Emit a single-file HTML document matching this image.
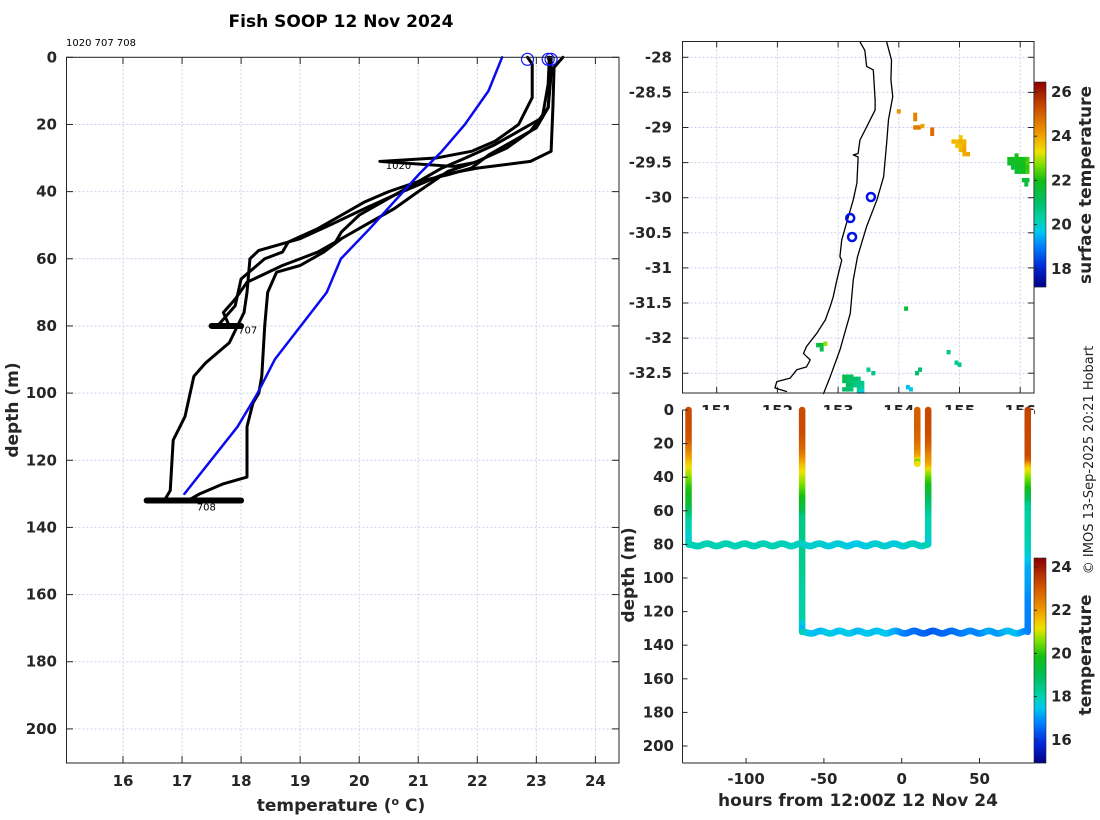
<!DOCTYPE html>
<html><head><meta charset="utf-8">
<style>
html,body{margin:0;padding:0;background:#fff;}
svg{display:block;font-family:"DejaVu Sans","Liberation Sans",sans-serif;}
.tk{font-size:15px;font-weight:bold;fill:#262626;}
.lb{font-size:17px;font-weight:bold;fill:#262626;}
</style></head>
<body>
<svg id="fig" width="1100" height="820" viewBox="0 0 1100 820" xmlns="http://www.w3.org/2000/svg">
<rect width="1100" height="820" fill="#fff"/>
<text x="341" y="27" text-anchor="middle" font-size="17" font-weight="bold" fill="#000">Fish SOOP 12 Nov 2024</text>
<text x="66" y="46" font-size="10" fill="#000">1020 707 708</text>
<g id="left"></g>
<g id="map"></g>
<g id="bot"></g>
<text transform="translate(1093,460) rotate(-90)" text-anchor="middle" font-size="13" fill="#222">© IMOS 13-Sep-2025 20:21 Hobart</text>
</svg>
<script>
// ---------- data ----------
const climTemp=[22.42,22.19,21.79,21.40,21.03,20.54,20.18,19.69,19.45,18.57,18.28,17.94,17.04];
const climDepth=[0,10,20,28,34.5,44,51,60,70,90,100,110,130];
const p1Temp=[23.45,23.3,23.28,23.25,22.9,22.0,21.4,20.6,20.1,19.5,19.0,18.3,18.15,18.1,18.05,17.8,17.4,17.2,17.05,16.85,16.8,16.7];
const p1Depth=[0,3,15,28,31,33,35,41,45,50,54,57.5,60,70,76,85,91,95,107,114,129,132];
const p2Temp=[23.2,23.25,23.2,22.9,22.5,22.0,21.5,21.0,20.6,20.2,19.7,19.4,19.0,18.6,18.45,18.4,18.35,18.3,18.2,18.1,18.1,17.7,17.3,17.1];
const p2Depth=[0,3,15,22,27,31,34,40,45,49,54,58,62,64,70,80,95,100,103,110,125,127,130,132];
const p3Temp=[22.85,22.93,22.93,22.7,22.3,21.9,21.3,20.35,21.6,21.9];
const p3Depth=[0,2,12,20,25,28,30,31,32.5,31.5];
const p4Temp=[23.25,23.25,23.2,23.0,22.6,22.2,21.9,21.5,21.0,20.5,20.1,19.7,19.3,18.8,18.7,18.4,18.2,18.0,17.95,17.9,17.7,17.6];
const p4Depth=[0,5,15,21,25,29,33,35,37,40,43,47,51,55,58,60,63,66,70,74,78,80];
const p5Temp=[23.22,23.2,23.1,22.7,22.3,21.8,21.4,20.9,20.5,20.0,19.7,19.6,19.3,18.7,18.1,17.9,17.7,17.8];
const p5Depth=[0,8,18,22,26,30,33,38,42,47,52,55,58,62,67,72,76,80];
const castHours=[-137,-64,10,17,81];
const driftAHours=[-137,-131,-125,-119,-113,-107,-101,-95,-89,-83,-77,-71,-65,-59,-53,-47,-41,-35,-29,-23,-17,-11,-5,1,7,13,17];
const driftADepth=[80,81,79.5,81,79.5,81,79.5,81,79.5,81,79.5,81,79.5,81,79.5,81,79.5,81,79.5,81,79.5,81,79.5,81,79.5,81,80];
const driftATemp=[18.0,17.9,18.0,17.95,18.0,17.9,18.0,17.9,17.95,17.95,18.0,17.9,17.9,17.7,17.8,17.6,17.7,17.6,17.5,17.6,17.7,17.8,17.6,17.7,17.9,17.8,18.0];
const driftBHours=[-64,-58,-52,-46,-40,-34,-28,-22,-16,-10,-4,2,8,14,20,26,32,38,44,50,56,62,68,74,80,81];
const driftBDepth=[132,133,131.5,133,131.5,133,131.5,133,131.5,133,131.5,133,131.5,133,131.5,133,131.5,133,131.5,133,131.5,133,131.5,133,131.5,132];
const driftBTemp=[18.0,17.5,17.3,17.6,17.4,17.6,17.3,17.5,17.4,17.5,17.2,16.8,16.6,16.5,16.4,16.5,16.6,16.7,16.9,16.8,17.2,17.0,17.3,17.4,16.9,16.8];
const startTemp=[22.85,23.2,23.25];
const tempTicks=[16,17,18,19,20,21,22,23,24];
const depthTicks=[0,20,40,60,80,100,120,140,160,180,200];
const coastLon=[153.36,153.44,153.47,153.58,153.61,153.61,153.50,153.36,153.33,153.25,153.33,153.31,153.25,153.20,153.14,153.06,153.03,153.06,152.98,152.92,152.87,152.79,152.65,152.48,152.43,152.54,152.48,152.32,152.21,151.99,151.96,152.15];
const coastLat=[-27.78,-27.90,-28.13,-28.18,-28.61,-28.75,-28.94,-29.18,-29.37,-29.39,-29.42,-29.79,-30.03,-30.18,-30.36,-30.60,-30.84,-30.89,-31.17,-31.41,-31.55,-31.74,-31.93,-32.12,-32.22,-32.31,-32.41,-32.45,-32.57,-32.62,-32.71,-32.76];
const shelfLon=[153.80,153.88,153.87,153.90,153.83,153.80,153.75,153.64,153.47,153.32,153.25,153.20,153.03,152.87,152.76];
const shelfLat=[-27.78,-28.04,-28.32,-28.56,-28.89,-29.22,-29.70,-30.03,-30.41,-30.84,-31.17,-31.65,-32.17,-32.55,-32.79];
const stnLon=[153.54,153.20,153.23];
const stnLat=[-29.99,-30.29,-30.56];
const sstLon=[154.27,154.27,154.33,154.27,154.39,154.55,154.55,154.0,
154.9,154.96,155.02,155.08,154.96,155.02,155.08,155.02,155.08,155.08,155.14,155.02,
155.82,155.88,155.94,156.0,156.06,156.12,155.82,155.88,155.94,156.0,156.06,156.12,155.88,155.94,156.0,156.06,156.12,155.94,156.0,156.06,156.12,156.12,156.06,156.1,155.94,
152.67,152.73,152.79,152.73,
153.1,153.16,153.22,153.28,153.34,153.1,153.16,153.22,153.28,153.34,153.4,153.16,153.22,153.28,153.34,153.4,153.1,153.16,153.22,153.34,153.4,
154.3,154.35,154.95,155.0,154.2,154.15,154.12,154.82,153.5,153.58];
const sstLat=[-28.82,-28.88,-29.0,-29.0,-28.98,-29.03,-29.09,-28.77,
-29.2,-29.2,-29.2,-29.2,-29.26,-29.26,-29.26,-29.32,-29.32,-29.38,-29.38,-29.14,
-29.45,-29.45,-29.45,-29.45,-29.45,-29.45,-29.51,-29.51,-29.51,-29.51,-29.51,-29.51,-29.57,-29.57,-29.57,-29.57,-29.57,-29.63,-29.63,-29.63,-29.63,-29.75,-29.75,-29.81,-29.4,
-32.1,-32.1,-32.08,-32.16,
-32.55,-32.55,-32.55,-32.58,-32.58,-32.61,-32.61,-32.61,-32.64,-32.64,-32.64,-32.67,-32.67,-32.67,-32.7,-32.7,-32.73,-32.73,-32.73,-32.76,-32.76,
-32.5,-32.45,-32.35,-32.38,-32.73,-32.7,-31.58,-32.2,-32.45,-32.5];
const sstVal=[24.5,24.5,24.6,24.6,24.0,24.8,24.8,24.2,
23.8,23.7,23.9,23.8,23.6,23.7,23.9,23.8,24.0,23.9,24.0,23.6,
21.9,21.8,21.8,22.0,21.9,22.3,21.7,21.8,21.9,21.8,22.0,22.4,21.6,21.7,21.8,21.9,22.2,21.7,21.8,21.9,22.3,21.6,21.7,21.5,22.0,
21.5,21.5,22.8,21.3,
21.4,21.3,21.1,21.2,20.8,21.3,21.0,20.9,20.8,20.6,20.7,21.2,21.0,20.7,20.6,20.5,21.1,21.0,20.8,20.4,19.8,
21.0,21.0,20.6,20.6,19.8,19.6,21.6,20.7,20.5,20.7];
const mapLatTicks=[-28,-28.5,-29,-29.5,-30,-30.5,-31,-31.5,-32,-32.5];
const mapLonTicks=[151,152,153,154,155,156];
const sstCbTicks=[18,20,22,24,26];
const hourTicks=[-100,-50,0,50];
const tCbTicks=[16,18,20,22,24];

// ---------- helpers ----------
const NS="http://www.w3.org/2000/svg";
function el(parent,tag,attrs,text){const e=document.createElementNS(NS,tag);for(const k in attrs)e.setAttribute(k,attrs[k]);if(text!==undefined)e.textContent=text;parent.appendChild(e);return e;}
const stops=[[0,[0,0,128]],[0.1,[0,40,220]],[0.2,[0,130,255]],[0.27,[0,200,240]],[0.33,[0,210,170]],[0.42,[0,190,100]],[0.52,[20,190,20]],[0.6,[130,225,0]],[0.66,[240,225,0]],[0.74,[240,160,0]],[0.86,[210,85,0]],[1,[140,0,0]]];
function cmap(f){f=Math.max(0,Math.min(1,f));for(let i=1;i<stops.length;i++){if(f<=stops[i][0]){const a=stops[i-1],b=stops[i];const t=(f-a[0])/(b[0]-a[0]);const c=a[1].map((v,j)=>Math.round(v+(b[1][j]-v)*t));return `rgb(${c[0]},${c[1]},${c[2]})`;}}return 'rgb(140,0,0)';}
function interp(ds,ts,d){for(let i=1;i<ds.length;i++){if(d<=ds[i]){const t=(d-ds[i-1])/((ds[i]-ds[i-1])||1);return ts[i-1]+(ts[i]-ts[i-1])*t;}}return ts[ts.length-1];}
const GRID="#c9d2ec";

// ---------- left panel ----------
const L=document.getElementById('left');
const lx=t=>123+(t-16)*59.05, ly=d=>57.3+d*3.358;
el(L,'rect',{x:66.5,y:57.3,width:552.5,height:705.7,fill:'#fff'});
tempTicks.forEach(t=>{
 const g=el(L,'line',{x1:lx(t),x2:lx(t),y1:57.3,y2:763,stroke:GRID,'stroke-width':1,'stroke-dasharray':'2,2'});
 
 el(L,'line',{x1:lx(t),x2:lx(t),y1:763,y2:756,stroke:'#262626'});
 el(L,'line',{x1:lx(t),x2:lx(t),y1:57.3,y2:64,stroke:'#262626'});
 const tx=el(L,'text',{x:lx(t),y:786,'text-anchor':'middle',class:'tk'},String(t));
 
});
depthTicks.forEach(d=>{
 const g=el(L,'line',{x1:66.5,x2:619,y1:ly(d),y2:ly(d),stroke:GRID,'stroke-width':1,'stroke-dasharray':'2,2'});
 
 el(L,'line',{x1:66.5,x2:73,y1:ly(d),y2:ly(d),stroke:'#262626'});
 el(L,'line',{x1:612,x2:619,y1:ly(d),y2:ly(d),stroke:'#262626'});
 const tx=el(L,'text',{x:57,y:ly(d)+5,'text-anchor':'end',class:'tk'},String(d));
 
});
function pline(parent,ts,ds,fx,fy,col,w,name){const p=el(parent,'polyline',{points:ts.map((t,i)=>fx(t)+','+fy(ds[i])).join(' '),fill:'none',stroke:col,'stroke-width':w,'stroke-linejoin':'round','stroke-linecap':'round'});return p;}
const profiles=[[p1Temp,p1Depth],[p2Temp,p2Depth],[p3Temp,p3Depth],[p4Temp,p4Depth],[p5Temp,p5Depth]];
profiles.forEach((p,i)=>pline(L,p[0],p[1],lx,ly,'#000',3,'profile-line-'+(i+1)));
function dline(ts,ds,name){const p=el(L,'polyline',{points:ts.map((t,i)=>lx(t)+','+ly(ds[i])).join(' '),fill:'none',stroke:'#000','stroke-width':6,'stroke-linecap':'round'});}
const sortedA=driftATemp.map((t,i)=>[t,driftADepth[i]]).sort((a,b)=>a[0]-b[0]);
const sortedB=driftBTemp.map((t,i)=>[t,driftBDepth[i]]).sort((a,b)=>a[0]-b[0]);
dline(sortedA.map(v=>v[0]),sortedA.map(()=>80),'drift-707');
dline(sortedB.map(v=>v[0]),sortedB.map(()=>132),'drift-708');
pline(L,climTemp,climDepth,lx,ly,'#0a0aee',2.5,'climatology-line');
startTemp.forEach(t=>{const c=el(L,'circle',{cx:lx(t),cy:ly(0)+2,r:6,fill:'none',stroke:'#1010ff','stroke-width':1.2});});
[['1020',20.45,31.8],['707',17.95,80.8],['708',17.25,133.5]].forEach(a=>{const t=el(L,'text',{x:lx(a[1]),y:ly(a[2])+5,'font-size':10,fill:'#000'},a[0]);});
el(L,'rect',{x:66.5,y:57.3,width:552.5,height:705.7,fill:'none',stroke:'#262626','stroke-width':1});
{const t=el(L,'text',{x:341,y:811,'text-anchor':'middle',class:'lb'});
 t.innerHTML='temperature (<tspan dy="-6" font-size="11">o</tspan><tspan dy="6"> C)</tspan>';}
{const t=el(L,'text',{transform:'translate(18,410) rotate(-90)','text-anchor':'middle',class:'lb'},'depth (m)');}

// ---------- map ----------
const M=document.getElementById('map');
const mx=lon=>716.7+(lon-151)*60.7, my=lat=>57.3+(-28-lat)*70.2;
const MX0=682.5,MX1=1034,MY0=41.5,MY1=393;
el(M,'rect',{x:MX0,y:MY0,width:MX1-MX0,height:MY1-MY0,fill:'#fff'});
mapLonTicks.forEach(v=>{el(M,'line',{x1:mx(v),x2:mx(v),y1:MY0,y2:MY1,stroke:GRID,'stroke-dasharray':'2,2'});
 el(M,'line',{x1:mx(v),x2:mx(v),y1:MY1,y2:MY1-6,stroke:'#262626'});el(M,'line',{x1:mx(v),x2:mx(v),y1:MY0,y2:MY0+6,stroke:'#262626'});
 const t=el(M,'text',{x:mx(v),y:416,'text-anchor':'middle',class:'tk'},String(v));});
mapLatTicks.forEach(v=>{el(M,'line',{x1:MX0,x2:MX1,y1:my(v),y2:my(v),stroke:GRID,'stroke-dasharray':'2,2'});
 el(M,'line',{x1:MX0,x2:MX0+6,y1:my(v),y2:my(v),stroke:'#262626'});el(M,'line',{x1:MX1,x2:MX1-6,y1:my(v),y2:my(v),stroke:'#262626'});
 const t=el(M,'text',{x:672,y:my(v)+5,'text-anchor':'end',class:'tk'},String(v));});
const sMin=17.18,sMax=26.45;
sstLon.forEach((lon,i)=>{const r=el(M,'rect',{x:mx(lon)-2,y:my(sstLat[i])-2.2,width:4,height:4.4,fill:cmap((sstVal[i]-sMin)/(sMax-sMin))});});
pline(M,coastLon,coastLat,mx,my,'#000',1.3,'coastline');
pline(M,shelfLon,shelfLat,mx,my,'#000',1.3,'shelf-contour');
stnLon.forEach((lon,i)=>{const c=el(M,'circle',{cx:mx(lon),cy:my(stnLat[i]),r:4,fill:'none',stroke:'#0010ee','stroke-width':2.5});});
el(M,'rect',{x:MX0,y:MY0,width:MX1-MX0,height:MY1-MY0,fill:'none',stroke:'#262626'});
{const cy=v=>92+(26-v)*22.1;for(let y=82;y<287;y++){const v=26-(y+0.5-92)/22.1;el(M,'rect',{x:1034,y:y,width:12,height:1.2,fill:cmap((v-sMin)/(sMax-sMin))});}
 const cb=el(M,'rect',{x:1034,y:82,width:12,height:205,fill:'none',stroke:'#262626','stroke-width':0.6});
 sstCbTicks.forEach(v=>{el(M,'line',{x1:1034,x2:1037,y1:cy(v),y2:cy(v),stroke:'#262626'});const t=el(M,'text',{x:1051,y:cy(v)+5,class:'tk'},String(v));});
 const t=el(M,'text',{transform:'translate(1091,185) rotate(-90)','text-anchor':'middle',class:'lb'},'surface temperature');}

// ---------- bottom right ----------
const B=document.getElementById('bot');
const bx=h=>901.7+h*1.556, by=d=>410+d*1.68;
const BX0=682.5,BX1=1034,BY0=410,BY1=763;
el(B,'rect',{x:BX0,y:BY0,width:BX1-BX0,height:BY1-BY0,fill:'#fff'});
const tMin=14.9,tMax=24.4;
const castProf=[profiles[4],profiles[1],profiles[2],profiles[3],profiles[0]];
castHours.forEach((h,i)=>{const p=castProf[i];const maxD=Math.max(...p[1]);
 for(let d=0;d<=maxD;d+=1){const c=el(B,'circle',{cx:bx(h),cy:by(d),r:3.3,fill:cmap((interp(p[1],p[0],d)-tMin)/(tMax-tMin))});}});
function drift(hs,ds,ts){for(let i=1;i<hs.length;i++){const n=Math.max(2,Math.round((hs[i]-hs[i-1])*1.6));for(let k=0;k<n;k++){const f=k/n;const h=hs[i-1]+(hs[i]-hs[i-1])*f;const d=ds[i-1]+(ds[i]-ds[i-1])*(0.5-0.5*Math.cos(Math.PI*f));const t=ts[i-1]+(ts[i]-ts[i-1])*f;
 const c=el(B,'circle',{cx:bx(h),cy:by(d),r:3.3,fill:cmap((t-tMin)/(tMax-tMin))});}}}
drift(driftAHours,driftADepth,driftATemp);
drift(driftBHours,driftBDepth,driftBTemp);
el(B,'line',{x1:BX0,x2:BX0,y1:BY0,y2:BY1,stroke:'#262626'});
el(B,'line',{x1:BX0,x2:BX1,y1:BY1,y2:BY1,stroke:'#262626'});
depthTicks.forEach(d=>{el(B,'line',{x1:BX0,x2:BX0+5,y1:by(d),y2:by(d),stroke:'#262626'});const t=el(B,'text',{x:674,y:by(d)+5,'text-anchor':'end',class:'tk'},String(d));});
hourTicks.forEach(h=>{el(B,'line',{x1:bx(h),x2:bx(h),y1:BY1,y2:BY1-5,stroke:'#262626'});const t=el(B,'text',{x:bx(h),y:784,'text-anchor':'middle',class:'tk'},String(h));});
{const t=el(B,'text',{x:858,y:806,'text-anchor':'middle',class:'lb'},'hours from 12:00Z 12 Nov 24');}
{const t=el(B,'text',{transform:'translate(634,575) rotate(-90)','text-anchor':'middle',class:'lb'},'depth (m)');}
{const cy=v=>567+(24-v)*21.6;for(let y=558;y<763;y++){const v=24-(y+0.5-567)/21.6;el(B,'rect',{x:1034,y:y,width:12,height:1.2,fill:cmap((v-tMin)/(tMax-tMin))});}
 const cb=el(B,'rect',{x:1034,y:558,width:12,height:205,fill:'none',stroke:'#262626','stroke-width':0.6});
 tCbTicks.forEach(v=>{el(B,'line',{x1:1034,x2:1037,y1:cy(v),y2:cy(v),stroke:'#262626'});const t=el(B,'text',{x:1051,y:cy(v)+5,class:'tk'},String(v));});
 const t=el(B,'text',{transform:'translate(1091,655) rotate(-90)','text-anchor':'middle',class:'lb'},'temperature');}
</script>
</body></html>
